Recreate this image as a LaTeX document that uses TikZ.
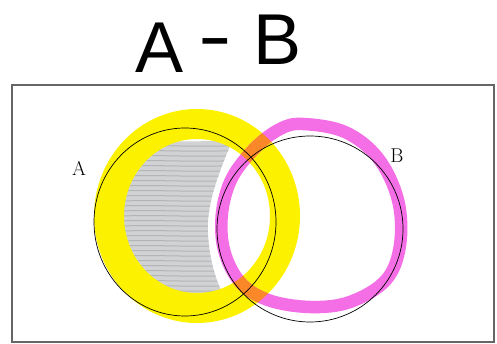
\documentclass[tikz,border=0pt]{standalone}
\usepackage{fontspec}
\newfontfamily\handfont{Liberation Sans}
\definecolor{hlyellow}{RGB}{252,242,0}
\definecolor{hlmagenta}{RGB}{244,110,230}
\definecolor{hlorange}{RGB}{250,135,40}
\definecolor{pencil}{RGB}{208,210,212}
\definecolor{pencildark}{RGB}{178,180,183}
\tikzset{
  title/.style={font=\handfont\fontsize{72}{72}\selectfont, inner sep=0pt, anchor=base},
  setlabel/.style={font=\fontsize{20}{20}\selectfont, inner sep=0pt, anchor=base},
  setcircle/.style={draw=black, line width=0.7pt},
  yellowband/.style={draw=hlyellow, line width=30pt},
  magentaband/.style={line width=12.5pt, line join=round}
}
\begin{document}
\begin{tikzpicture}[x=1pt,y=-1pt]
\useasboundingbox (0,0) rectangle (497,344);
\fill[white] (0,0) rectangle (497,344);
% title
\node[title] (tA) at (160,73) {A};
\node[title, xscale=1.4] (tdash) at (215,61) {-};
\node[title] (tB) at (278,65) {B};
% frame
\draw[draw=black!60, line width=1.2pt] (12,85) rectangle (494,342);
% pencil shading
\begin{scope}
  \clip (197,216) ellipse [x radius=80, y radius=84];
  \path[clip] (110,142) -- (232,141) .. controls (218,175) and (206,205) .. (208,235)
     .. controls (210,262) and (216,282) .. (226,300) -- (110,300) -- cycle;
  \fill[pencil] (110,135) rectangle (240,305);
  \foreach \yy/\dx in {146/3,151/-2,156/4,161/0,166/-3,171/2,176/5,181/-1,186/3,191/-4,196/1,201/4,206/-2,211/0,216/3,221/-3,226/2,231/5,236/-1,241/2,246/-3,251/4,256/0,261/-2,266/3,271/1,276/-4,281/2,286/0,291/3,296/-1}{
    \draw[pencildark, line width=1pt] (120+\dx,\yy) .. controls (160,\yy-1.5) and (190,\yy+1.5) .. (236+\dx,\yy-0.5);
  }
\end{scope}
% yellow highlight
\draw[yellowband] (197,216) ellipse [x radius=88, y radius=92];
% magenta highlight
\def\magpath{(303,124) (345,132) (378,158) (398,200) (400,245) (386,280) (350,302) (310,307) (268,300) (240,282) (224,250) (222,213) (232,178) (255,148) (280,129)}
\draw[magentaband, draw=hlmagenta] plot[smooth cycle, tension=0.6] coordinates {\magpath};
% orange overlap
\begin{scope}[even odd rule]
  \clip (197,216) ellipse [x radius=103, y radius=107] (197,216) ellipse [x radius=73, y radius=77];
  \draw[magentaband, draw=hlorange] plot[smooth cycle, tension=0.6] coordinates {\magpath};
\end{scope}
% circles
\draw[setcircle] (185,222) ellipse [x radius=91, y radius=94];
\draw[setcircle] (310,229) circle [radius=93];
% labels
\node[setlabel] (lA) at (79,175.5) {A};
\node[setlabel] (lB) at (397,163) {B};
\end{tikzpicture}
\end{document}
